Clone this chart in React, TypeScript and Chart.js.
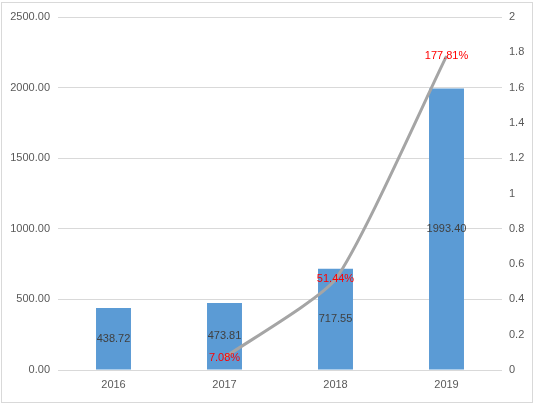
import React, { useEffect, useRef } from "react";
import { Chart, registerables } from "chart.js";

Chart.register(...registerables);

const categories = ["2016", "2017", "2018", "2019"];
const revenue = [438.72, 473.81, 717.55, 1993.4];
const growthPct = [null, 7.08, 51.44, 177.81];
const leftTicks = [0, 500, 1000, 1500, 2000, 2500];
const rightTicks = [0, 0.2, 0.4, 0.6, 0.8, 1, 1.2, 1.4, 1.6, 1.8, 2];

const FONT = "'Liberation Sans', Arial, sans-serif";

const labelPlugin = {
  id: "labelsAndBorder",
  afterDatasetsDraw(chart: any) {
    const ctx = chart.ctx;
    ctx.save();
    ctx.font = `11px ${FONT}`;
    ctx.textAlign = "center";
    ctx.textBaseline = "middle";
    const barMeta = chart.getDatasetMeta(0);
    barMeta.data.forEach((el: any, i: number) => {
      const v = revenue[i];
      const y = (el.y + el.base) / 2;
      ctx.fillStyle = "#404040";
      ctx.fillText(v.toFixed(2), el.x, y);
    });
    const lineMeta = chart.getDatasetMeta(1);
    lineMeta.data.forEach((el: any, i: number) => {
      const v = growthPct[i];
      if (v == null) return;
      ctx.fillStyle = "#FF0000";
      ctx.fillText(v.toFixed(2) + "%", el.x, el.y);
    });
    ctx.restore();
  },
  afterDraw(chart: any) {
    const ctx = chart.ctx;
    ctx.save();
    ctx.strokeStyle = "#D9D9D9";
    ctx.lineWidth = 1;
    ctx.strokeRect(1.5, 2.5, 531, 400);
    ctx.restore();
  },
};

export default function App() {
  const ref = useRef<HTMLCanvasElement | null>(null);
  useEffect(() => {
    document.body.style.margin = "0";
    const c = ref.current!;
    const chart = new Chart(c, {
      type: "bar",
      data: {
        labels: categories,
        datasets: [
          {
            type: "bar",
            data: revenue,
            backgroundColor: "#5B9BD5",
            yAxisID: "y",
            barPercentage: 0.315,
            categoryPercentage: 1,
            order: 2,
          },
          {
            type: "line",
            data: growthPct.map((v) => (v == null ? null : v / 100)),
            borderColor: "#A5A5A5",
            borderWidth: 3,
            pointRadius: 0,
            tension: 0.18,
            fill: false,
            yAxisID: "y1",
            order: 1,
          } as any,
        ],
      },
      options: {
        responsive: false,
        animation: false,
        events: [],
        layout: { padding: { top: 17, left: 0, right: 0, bottom: 0 } },
        plugins: { legend: { display: false }, tooltip: { enabled: false } },
        scales: {
          x: {
            grid: { display: false, drawTicks: false },
            border: { display: false },
            ticks: { color: "#595959", font: { family: FONT, size: 11 }, padding: 8 },
            afterFit: (s: any) => {
              s.height = 38;
            },
          },
          y: {
            position: "left",
            min: 0,
            max: 2500,
            afterBuildTicks: (s: any) => {
              s.ticks = leftTicks.map((v) => ({ value: v }));
            },
            grid: { color: "#D9D9D9", drawTicks: false },
            border: { display: false },
            ticks: {
              color: "#595959",
              font: { family: FONT, size: 11 },
              padding: 8,
              callback: (v: any) => Number(v).toFixed(2),
            },
            afterFit: (s: any) => {
              s.width = 58;
            },
          },
          y1: {
            position: "right",
            min: 0,
            max: 2,
            afterBuildTicks: (s: any) => {
              s.ticks = rightTicks.map((v) => ({ value: v }));
            },
            grid: { display: false, drawTicks: false },
            border: { display: false },
            ticks: {
              color: "#595959",
              font: { family: FONT, size: 11 },
              padding: 7,
              callback: (v: any) => String(Math.round(Number(v) * 10) / 10),
            },
            afterFit: (s: any) => {
              s.width = 34;
            },
          },
        },
      },
      plugins: [labelPlugin],
    });
    return () => chart.destroy();
  }, []);
  return (
    <div style={{ position: "absolute", left: 0, top: 0, width: 536, height: 408, background: "#fff" }}>
      <canvas ref={ref} width={536} height={408} style={{ width: 536, height: 408 }} />
    </div>
  );
}
